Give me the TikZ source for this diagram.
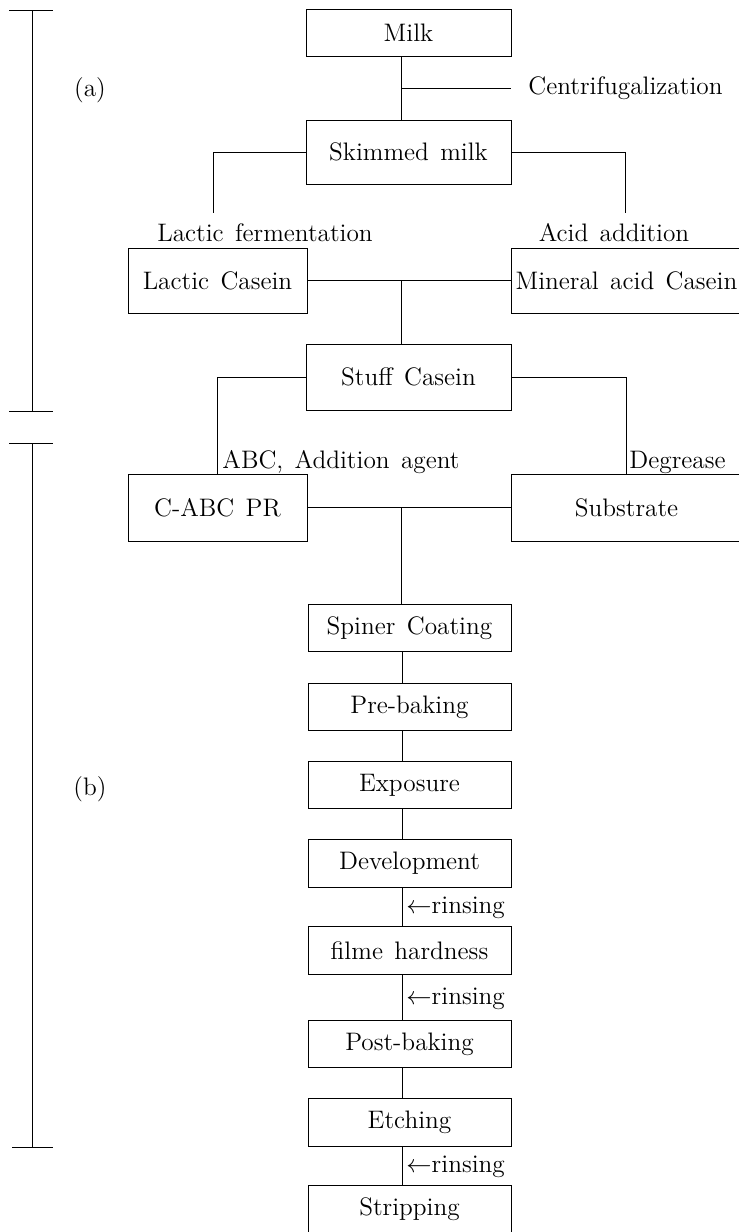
\documentclass[tikz,border=0pt]{standalone}
\usepackage{fontspec}
\usetikzlibrary{positioning,calc}
\newcommand\flowfont{\fontsize{14.4}{17}\selectfont\spaceskip=0.45em\relax}

\begin{document}
\begin{tikzpicture}[x=0.02cm,y=-0.02cm,line width=0.5pt,font=\flowfont,
    stage/.style={rectangle,draw,inner sep=0pt,minimum width=4.1cm,minimum height=0.94cm},
    side/.style={stage,minimum width=3.58cm},
    wide/.style={stage,minimum width=4.62cm},
    proc/.style={stage,minimum width=4.06cm,minimum height=0.95cm},
    tag/.style={inner sep=0pt}]
    \useasboundingbox (0,0) rectangle (739,1232);
    \clip (0,0) rectangle (739,1232);

    % range bars (a) and (b)
    \draw (9,10) -- (53,10) (32,10) -- (32,411) (9,411) -- (53,411);
    \draw (9,443) -- (53,443) (32,443) -- (32,1147) (12,1147) -- (53,1147);
    \node[tag] (a) at (90,90) {(a)};
    \node[tag] (b) at (90,789) {(b)};

    \node (1) at (408.5,32.5) [stage] {Milk};
    \node (2) at (408.5,152) [stage,minimum height=1.28cm] {Skimmed milk};
    \node (3) at (217.5,280.5) [side,minimum height=1.3cm] {Lactic Casein};
    \node (4) at (626.5,280.5) [wide,minimum height=1.3cm] {Mineral acid Casein};
    \node (5) at (408.5,377) [stage,minimum height=1.32cm] {Stuff Casein};
    \node (6) at (217.5,507.5) [side,minimum height=1.34cm] {C-ABC PR};
    \node (7) at (626.5,507.5) [wide,minimum height=1.34cm] {Substrate};
    \node (8) at (409.5,628) [proc] {Spiner Coating};
    \node (9) at (409.5,707) [proc] {Pre-baking};
    \node (10) at (409.5,785) [proc] {Exposure};
    \node (11) at (409.5,863.5) [proc] {Development};
    \node (12) at (409.5,950.5) [proc] {filme hardness};
    \node (13) at (409.5,1044) [proc] {Post-baking};
    \node (14) at (409.5,1122.5) [proc] {Etching};
    \node (15) at (409.5,1209.5) [proc] {Stripping};

    \node[tag,anchor=west] (cf) at (528,88) {Centrifugalization};
    \node[tag] (lf) at (265,233) {Lactic fermentation};
    \node[tag] (ad) at (614,233) {Acid addition};
    \node[tag,anchor=west] (ab) at (222,462) {ABC, Addition agent};
    \node[tag,anchor=west] (dg) at (629,462) {Degrease};
    \node[tag,anchor=west] (r1) at (406,908) {$\leftarrow$rinsing};
    \node[tag,anchor=west] (r2) at (406,999) {$\leftarrow$rinsing};
    \node[tag,anchor=west] (r3) at (406,1167) {$\leftarrow$rinsing};

    \coordinate (t) at (401,0);
    \coordinate (k) at (402,0);
    \coordinate (j1) at (401,88);
    \coordinate (lt) at (213,213);
    \coordinate (rt) at (625,213);

    \draw (1.south -| t) -- (2.north -| t);
    \draw (j1) -- (j1 -| 1.east);
    \draw (2.west) -| (lt);
    \draw (2.east) -| (rt);
    \draw (3.east) -- (4.west);
    \draw (t |- 3.east) -- (t |- 5.north);
    \draw (5.west) -| (6.north);
    \draw (5.east) -| (7.north);
    \draw (6.east) -- (7.west);
    \draw (t |- 6.east) -- (t |- 8.north);
    \foreach \a/\b in {8/9,9/10,10/11,11/12,12/13,13/14,14/15}
        \draw (k |- \a.south) -- (k |- \b.north);
\end{tikzpicture}
\end{document}
